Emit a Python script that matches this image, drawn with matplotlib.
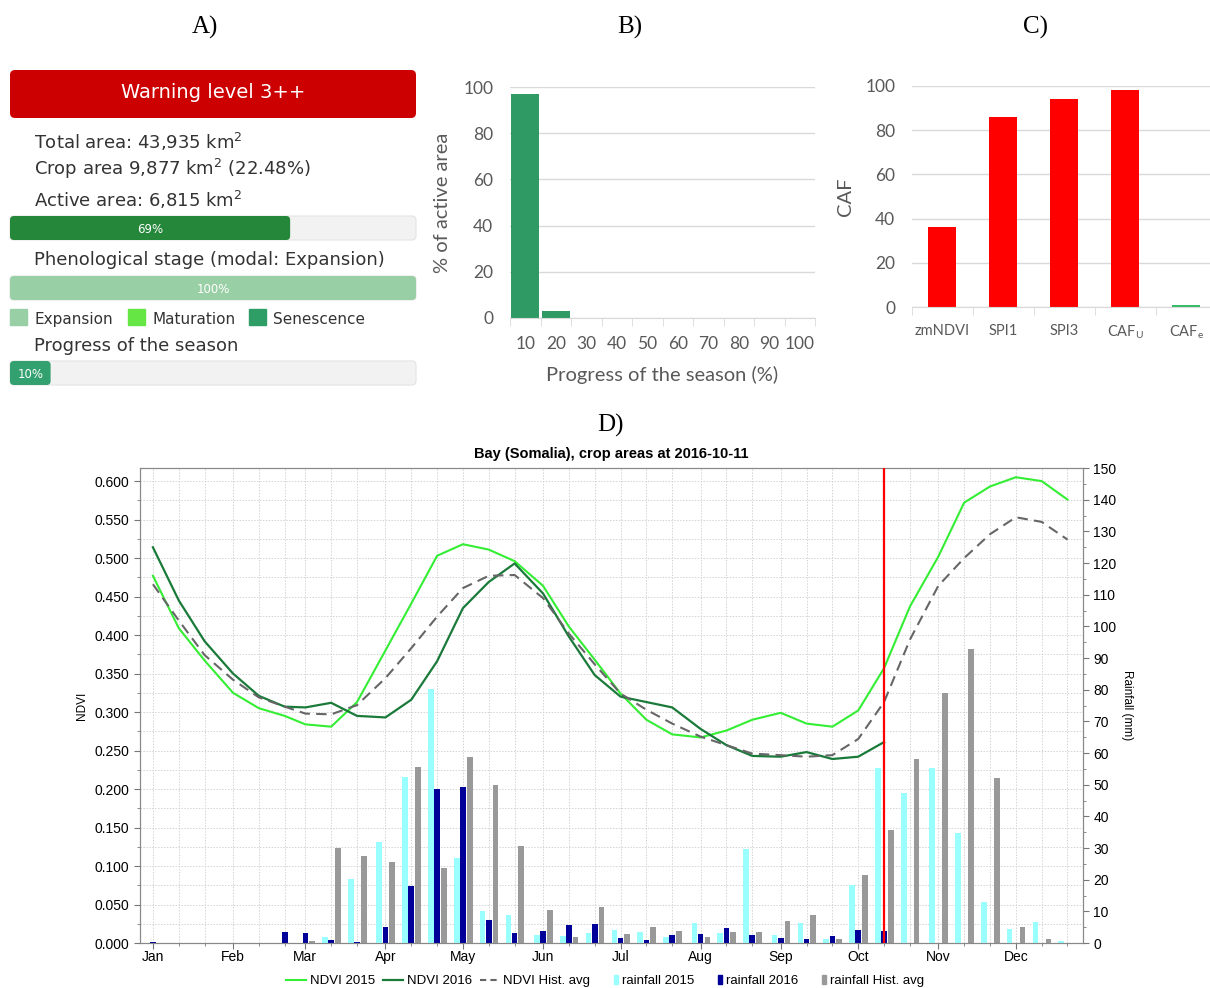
import numpy as np
import matplotlib
matplotlib.use("Agg")
from matplotlib import pyplot as plt
import matplotlib.patches as mpatches
from matplotlib.patches import FancyBboxPatch
from matplotlib.lines import Line2D
from matplotlib.legend_handler import HandlerPatch
from matplotlib.ticker import MultipleLocator, FormatStrFormatter

# ---- panel A: summary numbers
total_area = 43935
crop_area = 9877
active_area = 6815
pheno_expansion_pct = 100
season_progress_pct = 10
stage_names = ["Expansion", "Maturation", "Senescence"]
stage_colors = ["#99cfa4", "#66e645", "#2e9e66"]

# ---- panel B: histogram of season progress
progress_bins = ["10", "20", "30", "40", "50", "60", "70", "80", "90", "100"]
progress_share = [97, 3, 0, 0, 0, 0, 0, 0, 0, 0]

# ---- panel C: CAF per indicator
caf_names = ["zmNDVI", "SPI1", "SPI3", r"CAF$_\mathregular{U}$", r"CAF$_\mathregular{e}$"]
caf_values = [36, 86, 94, 98, 1]
caf_colors = ["#ff0000", "#ff0000", "#ff0000", "#ff0000", "#33bb66"]

# ---- panel D: dekadal NDVI and rainfall
months = ["Jan", "Feb", "Mar", "Apr", "May", "Jun", "Jul", "Aug", "Sep", "Oct", "Nov", "Dec"]
month_start = [0, 31, 59, 90, 120, 151, 181, 212, 243, 273, 304, 334]
dekad_day = [m + d for m in month_start for d in (0, 10, 20)]

ndvi_2015 = [0.477, 0.409, 0.367, 0.325, 0.305, 0.295, 0.284, 0.281, 0.313, 0.380,
             0.441, 0.503, 0.518, 0.511, 0.496, 0.464, 0.411, 0.368, 0.324, 0.290,
             0.271, 0.267, 0.276, 0.290, 0.299, 0.285, 0.281, 0.302, 0.357, 0.437,
             0.502, 0.572, 0.593, 0.605, 0.600, 0.576]
ndvi_2016 = [0.514, 0.445, 0.392, 0.350, 0.321, 0.307, 0.306, 0.312, 0.295, 0.293,
             0.316, 0.366, 0.435, 0.469, 0.493, 0.454, 0.398, 0.348, 0.320, 0.313,
             0.306, 0.278, 0.257, 0.243, 0.242, 0.248, 0.239, 0.242, 0.261]
ndvi_hist = [0.466, 0.419, 0.374, 0.342, 0.319, 0.307, 0.298, 0.297, 0.309, 0.344,
             0.383, 0.424, 0.461, 0.477, 0.478, 0.448, 0.402, 0.362, 0.324, 0.303,
             0.285, 0.268, 0.257, 0.246, 0.244, 0.242, 0.244, 0.265, 0.313, 0.394,
             0.464, 0.500, 0.531, 0.553, 0.547, 0.524]

rain_2015 = [0, 0, 0, 0, 0, 0, 0, 1.8, 20.2, 31.9,
             52.3, 80.2, 26.7, 10.0, 8.8, 2.6, 2.2, 3.3, 4.1, 3.4,
             2.0, 6.3, 3.2, 29.7, 2.6, 6.3, 1.2, 18.2, 55.4, 47.3,
             55.4, 34.6, 13.0, 4.3, 6.5, 0.5]
rain_2016 = [0.4, 0, 0, 0, 0, 3.4, 3.2, 1.1, 0.3, 5.2,
             18.1, 48.5, 49.3, 7.2, 3.3, 3.9, 5.6, 6.0, 1.6, 1.0,
             2.6, 2.8, 4.6, 2.4, 1.6, 1.2, 2.2, 4.1, 3.8]
rain_hist = [0, 0, 0, 0, 0, 0, 0.6, 29.9, 27.6, 25.6,
             55.5, 23.8, 58.8, 49.9, 30.6, 10.4, 2.0, 11.5, 2.7, 5.0,
             3.8, 2.0, 3.4, 3.5, 6.9, 8.7, 1.3, 21.4, 35.7, 58.1,
             78.8, 92.7, 52.0, 5.0, 1.2, 0]

W, H = 1210, 988
fig = plt.figure(figsize=(W / 100, H / 100), dpi=100)


def frac(x0, y0, x1, y1):
    # pixel box (top-left origin) -> figure fraction rect
    return [x0 / W, (H - y1) / H, (x1 - x0) / W, (y1 - y0) / H]


# ================= panel A (dashboard) + panel letters
axA = fig.add_axes([0, 0, 1, 1])
axA.set_xlim(0, W)
axA.set_ylim(H, 0)
axA.axis("off")

serif = ["Liberation Serif", "DejaVu Serif"]
for lab, x, y in [("A)", 205, 27), ("B)", 630, 27), ("C)", 1035, 27), ("D)", 610, 425)]:
    axA.text(x, y, lab, fontsize=18, family=serif, ha="center", va="center")

bx0, bx1 = 10, 416
txt_kw = dict(fontsize=13, color="#333333", family="DejaVu Sans", va="center")


def rbox(x0, y0, x1, y1, color, r=4, ec="none"):
    axA.add_patch(FancyBboxPatch((x0, y0), x1 - x0, y1 - y0,
                                 boxstyle=f"round,pad=0,rounding_size={r}",
                                 fc=color, ec=ec, lw=0.8))


def progress(y0, y1, pct, color, label):
    rbox(bx0, y0, bx1, y1, "#f2f2f2", ec="#e4e4e4")
    xe = bx0 + (bx1 - bx0) * pct / 100
    rbox(bx0, y0, xe, y1, color)
    axA.text((bx0 + xe) / 2, (y0 + y1) / 2 + 1, label, fontsize=8.5,
             color="white", ha="center", va="center")


rbox(bx0, 70, bx1, 118, "#cc0000", r=5)
axA.text((bx0 + bx1) / 2, 93, "Warning level 3++", fontsize=14, color="white",
         ha="center", va="center")
axA.text(34, 142, f"Total area: {total_area:,} km$^2$", **txt_kw)
axA.text(34, 169, f"Crop area {crop_area:,} km$^2$ ({100 * crop_area / total_area:.2f}%)", **txt_kw)
axA.text(34, 200, f"Active area: {active_area:,} km$^2$", **txt_kw)
active_pct = round(100 * active_area / crop_area)
progress(216, 240, active_pct, "#24873a", f"{active_pct}%")
axA.text(34, 260, "Phenological stage (modal: Expansion)", **txt_kw)
progress(276, 300, pheno_expansion_pct, stage_colors[0], f"{pheno_expansion_pct}%")
for i, (name, col) in enumerate(zip(stage_names, stage_colors)):
    x = [10, 128, 249][i]
    axA.add_patch(mpatches.Rectangle((x, 309), 17, 16, color=col))
    axA.text(x + 24, 319, name, fontsize=11, color="#333333", va="center")
axA.text(34, 346, "Progress of the season", **txt_kw)
progress(361, 385, season_progress_pct, "#33a070", f"{season_progress_pct}%")

# ================= panel B
sans_b = ["Lato", "DejaVu Sans"]
grey_txt = "#595959"
grid_c = "#d9d9d9"


def excel_style(ax, n):
    for s in ("left", "top", "right"):
        ax.spines[s].set_visible(False)
    ax.spines["bottom"].set_color(grid_c)
    ax.set_xlim(-0.5, n - 0.5)
    ax.set_ylim(0, 100)
    ax.set_yticks(range(0, 101, 20))
    ax.yaxis.grid(True, color=grid_c, lw=1)
    ax.set_axisbelow(True)
    ax.set_xticks(np.arange(n + 1) - 0.5, minor=True)
    ax.tick_params(axis="x", which="minor", length=6, color=grid_c)
    ax.tick_params(axis="both", which="major", length=0, labelcolor=grey_txt)
    ax.tick_params(axis="y", pad=12)
    for t in ax.get_yticklabels():
        t.set_family(sans_b)
        t.set_fontsize(12.5)


axB = fig.add_axes(frac(510, 87, 815, 318))
posB = np.arange(len(progress_bins))
axB.bar(posB, progress_share, width=0.92, color="#2f9a64")
excel_style(axB, len(progress_bins))
axB.set_xticks(posB)
axB.set_xticklabels(progress_bins, family=sans_b, fontsize=12.5)
axB.tick_params(axis="x", which="major", pad=13)
axB.set_ylabel("% of active area", family=sans_b, fontsize=14.5, color=grey_txt, labelpad=9)
axB.set_xlabel("Progress of the season (%)", family=sans_b, fontsize=14.5, color=grey_txt, labelpad=10)

# ================= panel C
axC = fig.add_axes(frac(912, 86, 1216.6, 307))
posC = np.arange(len(caf_names))
axC.bar(posC, caf_values, width=0.46, color=caf_colors)
excel_style(axC, len(caf_names))
axC.set_xticks(posC)
axC.set_xticklabels(caf_names, family=sans_b, fontsize=10.5)
axC.tick_params(axis="x", which="major", pad=12)
axC.set_ylabel("CAF", family=sans_b, fontsize=14.5, color=grey_txt, labelpad=8)

# ================= panel D
sans_d = ["Liberation Sans", "DejaVu Sans"]
rect_d = frac(140, 468, 1083, 943)
ax = fig.add_axes(rect_d)
axr = ax.twinx()
axl = fig.add_axes(rect_d, sharex=ax, sharey=ax)
ax.set_zorder(0)
axr.set_zorder(1)
axl.set_zorder(2)
axr.patch.set_visible(False)
axl.axis("off")

days = np.array(dekad_day, dtype=float)
bw = 2.2
c15, c16, chist = "#99ffff", "#000099", "#999999"
axr.bar(days[:len(rain_2015)] - 2.4, rain_2015, width=bw, color=c15)
axr.bar(days[:len(rain_2016)], rain_2016, width=bw, color=c16)
axr.bar(days[:len(rain_hist)] + 2.6, rain_hist, width=bw, color=chist)

g15, g16 = "#33ee33", "#1a7a3a"
axl.plot(days[:len(ndvi_2015)], ndvi_2015, color=g15, lw=1.5)
axl.plot(days[:len(ndvi_2016)], ndvi_2016, color=g16, lw=1.6)
axl.plot(days[:len(ndvi_hist)], ndvi_hist, color="#666666", lw=1.5, ls=(0, (5, 3)))
axl.axvline(days[len(ndvi_2016) - 1], color="red", lw=1.6)

ax.set_xlim(-5, 360)
ax.set_ylim(0, 0.617)
axr.set_ylim(0, 150)
ax.set_xticks(month_start)
ax.set_xticklabels(months)
ax.set_xticks([d for d in dekad_day if d not in month_start], minor=True)
ax.yaxis.set_major_locator(MultipleLocator(0.05))
ax.yaxis.set_minor_locator(MultipleLocator(0.025))
ax.yaxis.set_major_formatter(FormatStrFormatter("%.3f"))
axr.yaxis.set_major_locator(MultipleLocator(10))
axr.yaxis.set_minor_locator(MultipleLocator(5))
ax.grid(True, which="both", color="#d4d4d4", ls=(0, (1.5, 1.5)), lw=0.7)
for a in (ax, axr):
    a.tick_params(which="both", direction="out", color="#777777", labelsize=10)
    a.tick_params(which="major", length=4)
    a.tick_params(which="minor", length=2.5)
    for s in a.spines.values():
        s.set_color("#888888")
    for t in a.get_xticklabels() + a.get_yticklabels():
        t.set_family(sans_d)
ax.tick_params(axis="x", pad=1)
ax.set_ylabel("NDVI", family=sans_d, fontsize=8.5, labelpad=5)
axr.set_ylabel("Rainfall (mm)", family=sans_d, fontsize=8.5, rotation=-90, labelpad=12)
ax.set_title("Bay (Somalia), crop areas at 2016-10-11", family=sans_d,
             fontsize=10.5, fontweight="bold", pad=7)


def thin_rect(legend, orig_handle, xdescent, ydescent, width, height, fontsize):
    w = 0.45 * height
    return mpatches.Rectangle((width - xdescent - w, -ydescent), w, height)


handles = [Line2D([], [], color=g15, lw=1.5),
           Line2D([], [], color=g16, lw=1.6),
           Line2D([], [], color="#666666", lw=1.5, ls=(0, (3, 2))),
           mpatches.Patch(color=c15), mpatches.Patch(color=c16), mpatches.Patch(color=chist)]
labels = ["NDVI 2015", "NDVI 2016", "NDVI Hist. avg", "rainfall 2015", "rainfall 2016", "rainfall Hist. avg"]
fig.legend(handles, labels, loc="center", bbox_to_anchor=(0.5, (H - 981) / H), ncol=6,
           frameon=False, prop={"family": sans_d, "size": 9.5}, handlelength=1.5,
           handletextpad=0.3, columnspacing=0.6,
           handler_map={mpatches.Patch: HandlerPatch(patch_func=thin_rect)})

fig.savefig("out.png", dpi=100)
